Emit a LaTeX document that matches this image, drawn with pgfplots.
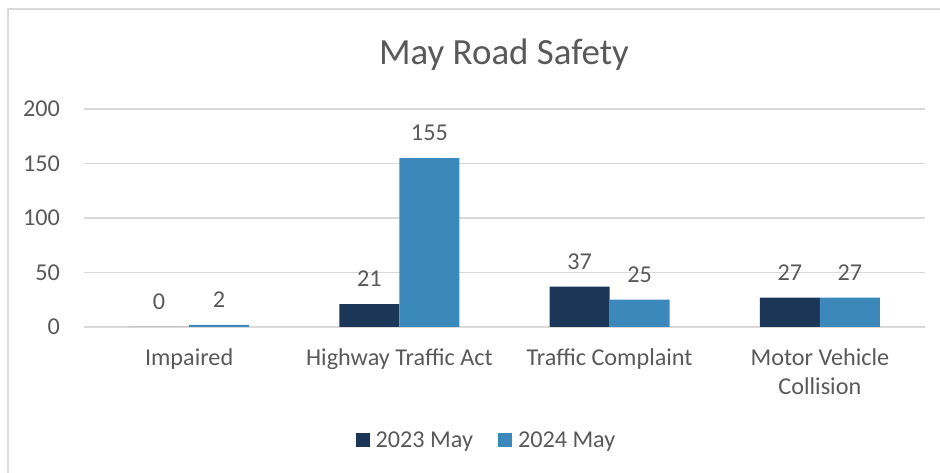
\documentclass[border=0pt]{standalone}
\usepackage{fontspec}
\setmainfont{Carlito}
\usepackage{pgfplots}
\pgfplotsset{compat=1.18}
\definecolor{cdark}{RGB}{27,54,87}
\definecolor{cblue}{RGB}{59,137,186}
\definecolor{tgray}{RGB}{89,89,89}
\definecolor{ggray}{RGB}{217,217,217}
\newcommand\lbl{\fontsize{24.2bp}{29bp}\selectfont}
\newcommand\mvc{\vtop{\baselineskip=29bp\hbox to 0pt{\hss Motor Vehicle\hss}\hbox to 0pt{\hss Collision\hss}}}
\begin{document}
\begin{tikzpicture}[x=1bp,y=1bp]
\path[use as bounding box] (0,0) rectangle (940,473);
\draw[ggray, line width=1.5bp] (8,0) -- (8,464) -- (940,464);
\node[anchor=base, text=tgray, inner sep=0pt, font=\fontsize{36.9bp}{42bp}\selectfont] at (504,408) {May Road Safety};
\begin{axis}[
  at={(84bp,146bp)}, anchor=south west,
  scale only axis, width=841bp, height=218bp,
  xmin=-0.5, xmax=3.5, ymin=0, ymax=200,
  enlargelimits=false, clip=false,
  ybar=0pt, bar width=60bp,
  axis line style={draw=none},
  major tick length=0pt,
  ymajorgrids, grid style={ggray, line width=1.3bp},
  ytick={0,50,100,150,200},
  xtick={0,1,2,3},
  xticklabels={Impaired, Highway Traffic Act, Traffic Complaint, \mvc},
  xticklabel style={anchor=base, yshift=-39bp, inner sep=0pt, font=\lbl, text=tgray},
  yticklabel style={anchor=east, xshift=-24bp, inner sep=0pt, font=\lbl, text=tgray},
  /pgf/number format/assume math mode=true,
  nodes near coords,
  every node near coord/.append style={anchor=base, yshift=17.5bp, inner sep=0pt, font=\lbl, text=tgray},
  legend columns=2,
  legend style={at={(0.4774,-0.518)}, anchor=center, draw=none, font=\lbl, text=tgray,
    inner sep=0pt, nodes={inner sep=0pt},
    /tikz/every even column/.append style={column sep=25bp},
    /tikz/every odd column/.append style={column sep=6bp}},
  legend image code/.code={\fill[#1] (0bp,-7bp) rectangle (14bp,7bp);},
]
\addplot[fill=cdark, draw=none] coordinates {(0,0) (1,21) (2,37) (3,27)};
\addplot[fill=cblue, draw=none] coordinates {(0,2) (1,155) (2,25) (3,27)};
\legend{2023 May, 2024 May}
\end{axis}
\end{tikzpicture}
\end{document}
